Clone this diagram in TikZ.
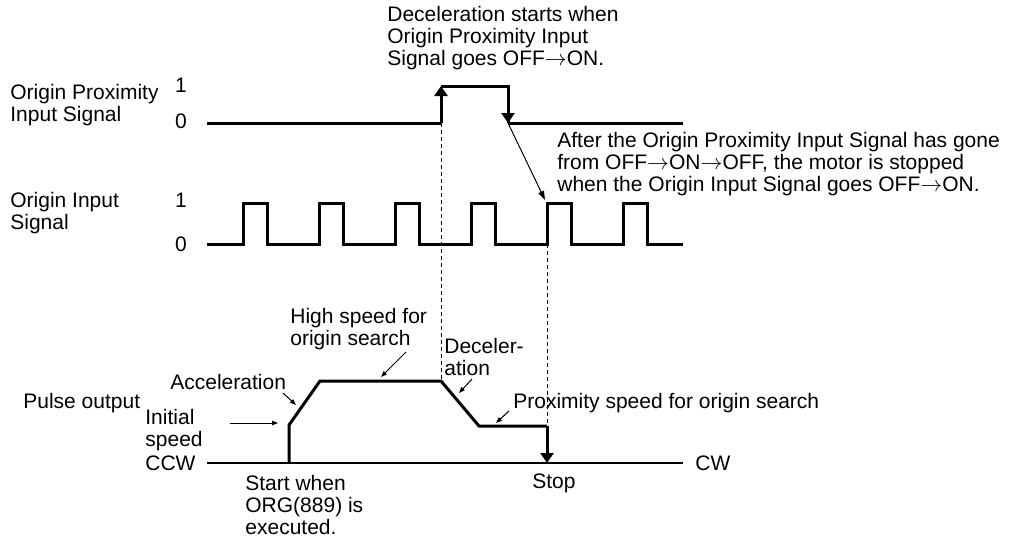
\documentclass[tikz,border=0pt]{standalone}
\usepackage{fontspec}
\setmainfont{Liberation Sans}
\usetikzlibrary{arrows.meta}

\begin{document}
\begin{tikzpicture}[
    x=0.5pt, y=-0.5pt,
    font=\fontsize{10.5}{11}\selectfont,
    lbl/.style={anchor=west, align=left, inner sep=0pt},
    lvl/.style={inner sep=0pt},
    signal/.style={line width=1.5pt, line join=miter},
    bigtip/.style={-{Triangle[length=5pt,width=6.5pt]}},
    pointer/.style={-{Triangle[length=3pt,width=2.2pt]}, line width=0.5pt},
    longpointer/.style={-{Triangle[length=4.5pt,width=3pt]}, line width=0.5pt},
    guide/.style={line width=0.5pt, dash pattern=on 2pt off 1.5pt},
    axis/.style={line width=0.7pt}
  ]
  \useasboundingbox (0,0) rectangle (1009,536);

  % signal names and levels
  \node[lbl] (proxname) at (10,105) {Origin Proximity\\Input Signal};
  \node[lvl] (proxone) at (181,85) {1};
  \node[lvl] (proxzero) at (181,121) {0};
  \node[lbl] (orgname) at (10,213) {Origin Input\\Signal};
  \node[lvl] (orgone) at (181,200) {1};
  \node[lvl] (orgzero) at (181,244) {0};

  % key points
  \coordinate (proxrise) at (441,123);
  \coordinate (proxtop) at (441,86);
  \coordinate (proxfall) at (508,123);
  \coordinate (stoppulse) at (545,200);
  \coordinate (stopzero) at (547,244);
  \coordinate (startpt) at (289,463);
  \coordinate (initpt) at (289,425);
  \coordinate (highstart) at (320,381);
  \coordinate (highend) at (441,381);
  \coordinate (lowstart) at (479,426);
  \coordinate (lowend) at (547,426);
  \coordinate (stoppt) at (547,463);

  % Origin Proximity Input Signal
  \draw[signal] (207,123) -- (proxrise);
  \draw[signal, bigtip] (proxrise) -- (proxtop);
  \draw[signal] (proxtop) -- (508,86) -- (proxfall);
  \draw[signal, bigtip] (508,86) -- (proxfall);
  \draw[signal] (proxfall) -- (683,123);

  % Origin Input Signal
  \draw[signal] (207,244)
    \foreach \x in {243,319,395,471,547,623} {
      -- (\x,244) -- (\x,203) -- ++(24,0) -- ++(0,41)
    } -- (683,244);

  % pulse output
  \draw[axis] (207,463) -- (683,463);
  \draw[signal] (startpt) -- (initpt) -- (highstart) -- (highend)
    -- (lowstart) -- (lowend);
  \draw[signal, bigtip] (lowend) -- (stoppt);

  % guides
  \draw[guide] (proxrise) -- (highend);
  \draw[guide] (stopzero) -- (lowend);

  % notes
  \node[lbl] (decnote) at (387,38)
    {Deceleration starts when\\Origin Proximity Input\\Signal goes OFF$\rightarrow$ON.};
  \node[lbl] (stopnote) at (557,164)
    {After the Origin Proximity Input Signal has gone\\from OFF$\rightarrow$ON$\rightarrow$OFF, the motor is stopped\\when the Origin Input Signal goes OFF$\rightarrow$ON.};
  \draw[longpointer] (proxfall) -- (stoppulse);

  \node[lbl] (highlbl) at (290,329) {High speed for\\origin search};
  \node[lbl] (declbl) at (444,357) {Deceler-\\ation};
  \node[lbl] (acclbl) at (170,382) {Acceleration};
  \node[lbl] (pulselbl) at (23,403) {Pulse output};
  \node[lbl] (initlbl) at (145,430) {Initial\\speed};
  \node[lbl] (ccwlbl) at (145,463) {CCW};
  \node[lbl] (cwlbl) at (695,463) {CW};
  \node[lbl] (proxlbl) at (513,403) {Proximity speed for origin search};
  \node[lbl] (startlbl) at (245,505) {Start when\\ORG(889) is\\executed.};
  \node[lbl] (stoplbl) at (532,483) {Stop};

  \coordinate (hightail) at (406,352);
  \coordinate (highhead) at (381,377);
  \coordinate (dectail) at (472,379);
  \coordinate (dechead) at (459,393);
  \coordinate (acctail) at (283,393);
  \coordinate (acchead) at (296,405);
  \coordinate (inittail) at (230,423);
  \coordinate (inithead) at (278,423);
  \coordinate (proxtail) at (509,411);
  \coordinate (proxhead) at (496,423);

  \draw[pointer] (hightail) -- (highhead);
  \draw[pointer] (dectail) -- (dechead);
  \draw[pointer] (acctail) -- (acchead);
  \draw[pointer] (inittail) -- (inithead);
  \draw[pointer] (proxtail) -- (proxhead);
\end{tikzpicture}
\end{document}
